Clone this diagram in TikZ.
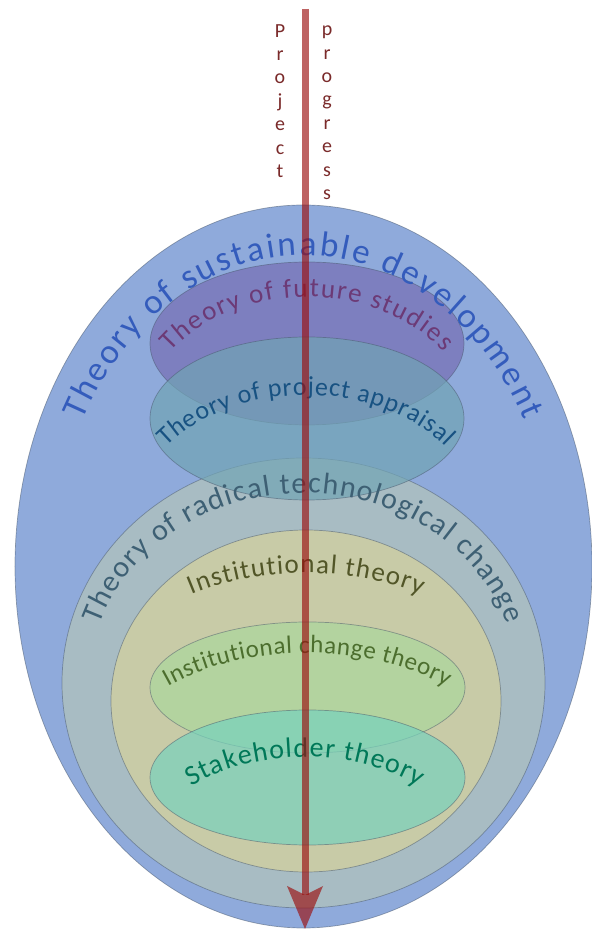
\documentclass[tikz,border=0pt]{standalone}
\usepackage{fontspec}
\setmainfont{Carlito}
\usepackage{tikz}
\usetikzlibrary{shapes.geometric, arrows.meta, decorations.text}

\definecolor{sdfill}{RGB}{143,170,219}
\definecolor{fsfill}{RGB}{118,110,180}
\definecolor{pafill}{RGB}{113,164,180}
\definecolor{rtfill}{RGB}{179,197,186}
\definecolor{itfill}{RGB}{214,210,156}
\definecolor{icfill}{RGB}{171,215,157}
\definecolor{shfill}{RGB}{119,210,189}
\definecolor{edgegray}{RGB}{70,85,105}
\definecolor{sdtext}{RGB}{52,92,188}
\definecolor{fstext}{RGB}{108,58,118}
\definecolor{patext}{RGB}{24,82,130}
\definecolor{rttext}{RGB}{62,96,116}
\definecolor{ittext}{RGB}{82,86,40}
\definecolor{ictext}{RGB}{76,110,46}
\definecolor{shtext}{RGB}{0,120,88}
\definecolor{arrowred}{RGB}{155,15,15}
\definecolor{projred}{RGB}{122,42,42}

\tikzstyle{layer} = [ellipse, inner sep=0pt, line width=0.7bp, draw=edgegray, draw opacity=0.5, fill opacity=0.7]
\tikzstyle{curved} = [decorate, decoration={text along path, text align=fit to path}]
\tikzstyle{progress} = [line width=7bp, draw=arrowred, opacity=0.65, -{Stealth[length=43bp, width=36bp, inset=9bp, line width=0pt]}]
\tikzstyle{letters} = [inner sep=0pt, align=center, text=projred, font=\fontsize{20bp}{23.4bp}\selectfont]

\begin{document}
\begin{tikzpicture}[x=1bp, y=1bp]
    \useasboundingbox (0,0) rectangle (592,930);

    % nested theory layers
    \node (sustain) [layer, fill=sdfill, fill opacity=1, minimum width=577bp, minimum height=723bp] at (303.5,363.5) {};
    \node (radical) [layer, fill=rtfill, minimum width=483bp, minimum height=450bp] at (303.5,247) {};
    \node (institut) [layer, fill=itfill, minimum width=390bp, minimum height=342bp] at (306,229) {};
    \node (instchange) [layer, fill=icfill, minimum width=315bp, minimum height=131bp] at (307.5,242.5) {};
    \node (stakeholder) [layer, fill=shfill, minimum width=315bp, minimum height=135bp] at (307.5,152.5) {};
    \node (future) [layer, fill=fsfill, minimum width=314bp, minimum height=163bp] at (307,586.5) {};
    \node (appraisal) [layer, fill=pafill, minimum width=314bp, minimum height=163bp] at (307,511.5) {};

    % arched labels
    \path [curved, decoration={text color=sdtext, text={|\fontsize{35bp}{40bp}\selectfont|Theory of sustainable development}}]
        ([shift={(152:250 and 311)}]303.5,363.5) arc[start angle=152, end angle=28, x radius=250, y radius=311];
    \path [curved, decoration={text color=fstext, text={|\fontsize{27bp}{30bp}\selectfont|Theory of future studies}}]
        ([shift={(147.2:162 and 120)}]307,513) arc[start angle=147.2, end angle=32.8, x radius=162, y radius=120];
    \path [curved, decoration={text color=patext, text={|\fontsize{26bp}{30bp}\selectfont|Theory of project appraisal}}]
        ([shift={(144.3:172 and 125)}]306,410) arc[start angle=144.3, end angle=35.7, x radius=172, y radius=125];
    \path [curved, decoration={text color=rttext, text={|\fontsize{30bp}{34bp}\selectfont|Theory of radical technological change}}]
        ([shift={(162:214 and 190)}]303.5,247) arc[start angle=162, end angle=18, x radius=214, y radius=190];
    \path [curved, decoration={text color=ittext, text={|\fontsize{27bp}{30bp}\selectfont|Institutional theory}}]
        ([shift={(124:205 and 128)}]306,229) arc[start angle=124, end angle=56, x radius=205, y radius=128];
    \path [curved, decoration={text color=ictext, text={|\fontsize{25bp}{28bp}\selectfont|Institutional change theory}}]
        ([shift={(132:208 and 130)}]307,147) arc[start angle=132, end angle=48, x radius=208, y radius=130];
    \path [curved, decoration={text color=shtext, text={|\fontsize{28bp}{31bp}\selectfont|Stakeholder theory}}]
        ([shift={(133:167 and 110)}]305,63) arc[start angle=133, end angle=47, x radius=167, y radius=110];

    % progress arrow
    \coordinate (start) at (305,921);
    \coordinate (finish) at (305,1);
    \draw [progress] (start) -- (finish);

    \node (project) [letters, anchor=north] at (280,906) {P\\r\\o\\j\\e\\c\\t};
    \node (progr) [letters, anchor=north] at (327,904.3) {p\\r\\o\\g\\r\\e\\s\\s};

\end{tikzpicture}
\end{document}
